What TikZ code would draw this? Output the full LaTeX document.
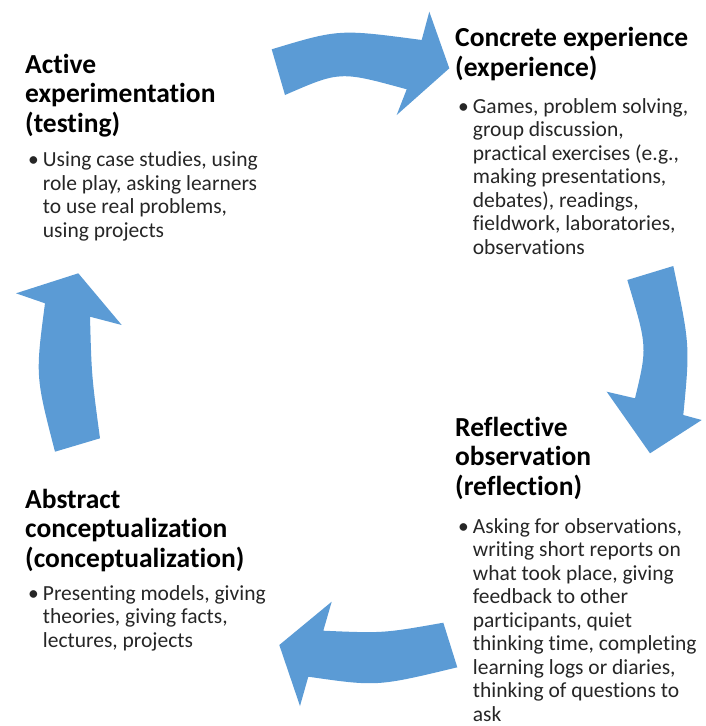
\documentclass[tikz,border=0pt]{standalone}
\usepackage{fontspec}
\setmainfont{Carlito}[Ligatures={NoCommon,NoContextual}]
\definecolor{arrowblue}{HTML}{5B9BD5}

\begin{document}
\begin{tikzpicture}[x=1pt,y=-1pt,
    heading/.style={anchor=base west,inner sep=0pt,
      font=\fontsize{27.5}{29.5}\selectfont\bfseries},
    bodytext/.style={anchor=base west,inner sep=0pt,text=black!85,
      font=\fontsize{21.5}{23.5}\selectfont},
    cyclearrow/.style={fill=arrowblue,draw=none}]
		%%%%% START %%%%%
		\useasboundingbox (0,0) rectangle (705,726);
		
		% top arrow
		\fill[cyclearrow] (271.7,49.3) .. controls (339,29) .. (421.7,40) -- (429.3,11.7)
		  -- (449.3,68.3) -- (396.7,115) -- (406.7,89.3) .. controls (340,71) .. (285,95) -- cycle;
		% right arrow
		\fill[cyclearrow] (627.3,280) -- (673.3,266) .. controls (690,345.5) .. (683.3,415)
		  -- (701.7,420) -- (650,453.3) -- (606.7,391.7) -- (635,398.3)
		  .. controls (647.4,346.8) .. (627.3,280) -- cycle;
		% bottom arrow
		\fill[cyclearrow] (443.3,622.7) .. controls (383.3,633.3) .. (323.3,630.7) -- (331.7,601.7)
		  -- (279.3,645) -- (300,706) -- (308.3,676.7) .. controls (377.2,686.6) .. (457.3,667.3) -- cycle;
		% left arrow
		\fill[cyclearrow] (55,451.7) .. controls (35.4,375.9) .. (45,303.3) -- (16,293.3)
		  -- (78.3,273.3) -- (121.7,325) -- (90,316.7) .. controls (91.6,375.9) .. (100,438.3) -- cycle;
		
		% active experimentation
		\node[heading] (ae-head) at (25,73.3) {\begin{tabular}[t]{@{}l@{}}Active\\experimentation\\(testing)\end{tabular}};
		\node[bodytext] (ae-body) at (28,166.7) {\begin{tabular}[t]{@{}l@{\hspace{4pt}}l@{}}
		  \textbullet & Using case studies, using\\
		  & role play, asking learners\\
		  & to use real problems,\\
		  & using projects\end{tabular}};
		
		% concrete experience
		\node[heading] (ce-head) at (455,46.7) {\begin{tabular}[t]{@{}l@{}}Concrete experience\\(experience)\end{tabular}};
		\node[bodytext] (ce-body) at (458,113.3) {\begin{tabular}[t]{@{}l@{\hspace{4pt}}l@{}}
		  \textbullet & Games, problem solving,\\
		  & group discussion,\\
		  & practical exercises (e.g.,\\
		  & making presentations,\\
		  & debates), readings,\\
		  & fieldwork, laboratories,\\
		  & observations\end{tabular}};
		
		% reflective observation
		\node[heading] (ro-head) at (455,436) {\begin{tabular}[t]{@{}l@{}}Reflective\\observation\\(reflection)\end{tabular}};
		\node[bodytext] (ro-body) at (458,533.3) {\begin{tabular}[t]{@{}l@{\hspace{4pt}}l@{}}
		  \textbullet & Asking for observations,\\
		  & writing short reports on\\
		  & what took place, giving\\
		  & feedback to other\\
		  & participants, quiet\\
		  & thinking time, completing\\
		  & learning logs or diaries,\\
		  & thinking of questions to\\
		  & ask\end{tabular}};
		
		% abstract conceptualization
		\node[heading] (ac-head) at (25,508.3) {\begin{tabular}[t]{@{}l@{}}Abstract\\conceptualization\\(conceptualization)\end{tabular}};
		\node[bodytext] (ac-body) at (28,600) {\begin{tabular}[t]{@{}l@{\hspace{4pt}}l@{}}
		  \textbullet & Presenting models, giving\\
		  & theories, giving facts,\\
		  & lectures, projects\end{tabular}};
		
		%%%%% END %%%%%
	\end{tikzpicture}
\end{document}
